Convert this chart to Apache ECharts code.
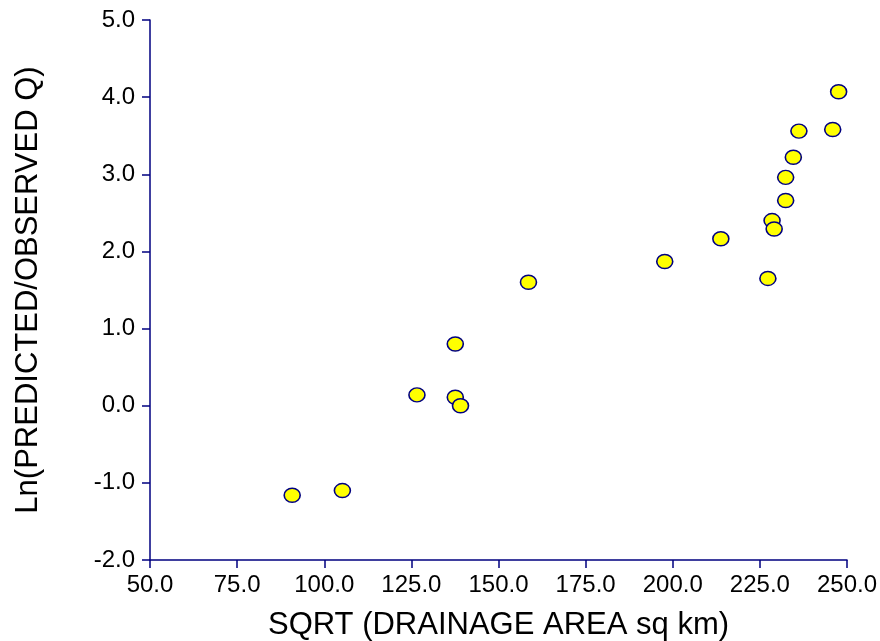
<!DOCTYPE html>
<html>
<head>
<meta charset="utf-8">
<script src="https://cdn.jsdelivr.net/npm/echarts@6/dist/echarts.min.js"></script>
<style>html,body{margin:0;padding:0;background:#fff}#c{width:880px;height:641px}</style>
</head>
<body>
<div id="c"></div>
<script>
var xValues = [90.8, 105.2, 126.6, 137.6, 137.6, 139.1, 158.6, 197.7, 213.8, 227.3, 228.5, 229.1, 232.4, 232.4, 234.6, 236.2, 245.9, 247.6];
var yValues = [-1.16, -1.10, 0.14, 0.80, 0.11, 0.00, 1.60, 1.87, 2.165, 1.65, 2.40, 2.29, 2.66, 2.96, 3.22, 3.56, 3.58, 4.07];
var xTitle = 'SQRT (DRAINAGE AREA sq km)';
var yTitle = 'Ln(PREDICTED/OBSERVED Q)';

var pts = xValues.map(function (x, i) { return [x, yValues[i]]; });
var navy = '#000080';
var chart = echarts.init(document.getElementById('c'), null, {renderer: 'canvas'});
chart.setOption({
  animation: false,
  backgroundColor: '#ffffff',
  grid: {left: 150, right: 33, top: 20, bottom: 81, containLabel: false, outerBoundsMode: 'none'},
  xAxis: {
    type: 'value', min: 50, max: 250, interval: 25,
    name: xTitle, nameLocation: 'middle', nameGap: 50,
    nameTextStyle: {fontFamily: 'Liberation Sans', fontSize: 31, color: '#000'},
    axisLine: {show: true, onZero: false, lineStyle: {color: navy, width: 1.5}},
    axisTick: {show: true, inside: false, length: 8, lineStyle: {color: navy, width: 1.5}},
    axisLabel: {fontFamily: 'Liberation Sans', fontSize: 24, color: '#000', margin: 13,
      formatter: function (v) { return v.toFixed(1); }},
    splitLine: {show: false}
  },
  yAxis: {
    type: 'value', min: -2, max: 5, interval: 1,
    name: yTitle, nameLocation: 'middle', nameGap: 106,
    nameTextStyle: {fontFamily: 'Liberation Sans', fontSize: 31, color: '#000'},
    axisLine: {show: true, onZero: false, lineStyle: {color: navy, width: 1.5}},
    axisTick: {show: true, inside: false, length: 8, lineStyle: {color: navy, width: 1.5}},
    axisLabel: {fontFamily: 'Liberation Sans', fontSize: 24, color: '#000', margin: 15,
      formatter: function (v) { return v.toFixed(1); }},
    splitLine: {show: false}
  },
  series: [{
    type: 'scatter',
    data: pts,
    symbol: 'circle',
    symbolSize: [16, 14],
    itemStyle: {color: '#ffff00', borderColor: navy, borderWidth: 1.5, opacity: 1}
  }]
});
</script>
</body>
</html>
